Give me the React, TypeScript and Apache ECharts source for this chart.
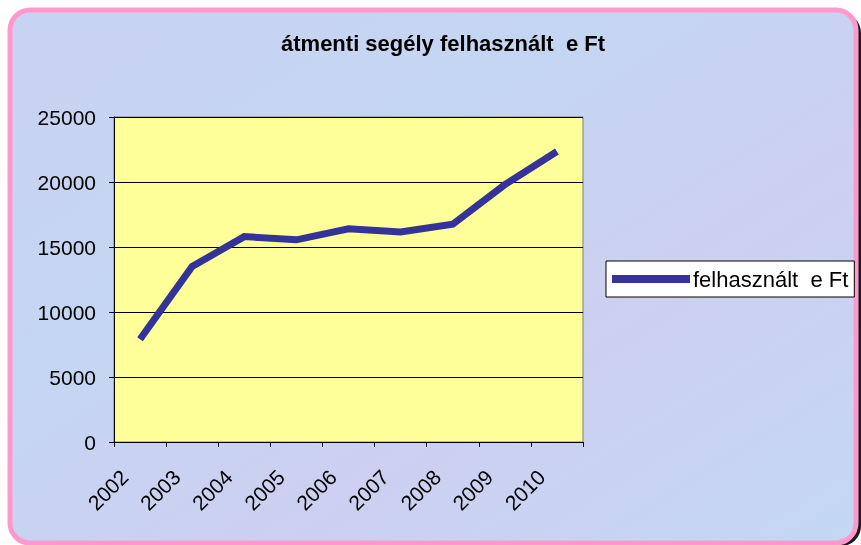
import React, { useEffect, useRef } from "react";
import * as echarts from "echarts";

const chartTitle = "átmenti segély felhasznált  e Ft";
const seriesName = "felhasznált  e Ft";
const years = ["2002", "2003", "2004", "2005", "2006", "2007", "2008", "2009", "2010"];
const spending = [7900, 13500, 15800, 15550, 16400, 16150, 16750, 19800, 22350];
const yMin = 0;
const yMax = 25000;
const yStep = 5000;

const FONT = "'Liberation Sans', Arial, Helvetica, sans-serif";

export default function App() {
  const ref = useRef<HTMLDivElement>(null);

  useEffect(() => {
    if (!ref.current) return;
    const chart = echarts.init(ref.current, null, { renderer: "svg" });
    chart.setOption({
      animation: false,
      backgroundColor: "transparent",
      graphic: [
        {
          type: "rect",
          z: -20,
          shape: { x: 13, y: 13, width: 848, height: 533, r: 20 },
          style: { fill: "#1a1a1a" },
        },
        {
          type: "rect",
          z: -19,
          shape: { x: 10, y: 10, width: 846, height: 533, r: 20 },
          style: {
            fill: {
              type: "linear",
              x: 0,
              y: 0,
              x2: 1,
              y2: 1,
              colorStops: [
                { offset: 0, color: "#c9d2f1" },
                { offset: 0.35, color: "#c4d6f2" },
                { offset: 0.65, color: "#cdd0f0" },
                { offset: 1, color: "#c3d8f2" },
              ],
            },
            stroke: "#ff99cc",
            lineWidth: 5,
          },
        },
      ],
      title: {
        text: chartTitle,
        left: 438,
        top: 27,
        textAlign: "center",
        textStyle: { fontFamily: FONT, fontSize: 22, fontWeight: "bold", color: "#000" },
      },
      legend: {
        show: true,
        left: 606,
        top: 261,
        orient: "vertical",
        padding: [7, 6],
        backgroundColor: "#ffffff",
        borderColor: "#000000",
        borderWidth: 1,
        borderRadius: 0,
        itemWidth: 78,
        itemHeight: 8,
        itemGap: 0,
        icon: "rect",
        data: [{ name: seriesName, icon: "rect" }],
        textStyle: { fontFamily: FONT, fontSize: 22, color: "#000", padding: [0, 0, 0, -2] },
      },
      grid: {
        left: 114,
        top: 117,
        width: 469,
        height: 325,
        show: true,
        backgroundColor: "#ffff99",
        borderColor: "#808080",
        borderWidth: 1,
        containLabel: false,
      },
      xAxis: {
        type: "category",
        data: years,
        boundaryGap: true,
        axisLine: { show: true, lineStyle: { color: "#000", width: 1 } },
        axisTick: { show: true, inside: false, length: 5, alignWithLabel: false, lineStyle: { color: "#000" } },
        axisLabel: {
          rotate: 45,
          margin: 16,
          padding: [0, 22, 0, 0],
          fontFamily: FONT,
          fontSize: 21,
          color: "#000",
        },
        splitLine: { show: false },
      },
      yAxis: {
        type: "value",
        min: yMin,
        max: yMax,
        interval: yStep,
        axisLine: { show: true, lineStyle: { color: "#000", width: 1 } },
        axisTick: { show: true, inside: false, length: 5, lineStyle: { color: "#000" } },
        axisLabel: {
          margin: 18,
          fontFamily: FONT,
          fontSize: 21,
          color: "#000",
          formatter: (v: number) => String(v),
        },
        splitLine: { show: true, lineStyle: { color: "#000", width: 1 } },
      },
      series: [
        {
          name: seriesName,
          type: "line",
          data: spending,
          symbol: "none",
          showSymbol: false,
          lineStyle: { color: "#33339a", width: 7, cap: "butt", join: "miter" },
          itemStyle: { color: "#33339a" },
        },
      ],
    });
    return () => chart.dispose();
  }, []);

  return (
    <div
      ref={ref}
      style={{ position: "fixed", left: 0, top: 0, width: 861, height: 545 }}
    />
  );
}
